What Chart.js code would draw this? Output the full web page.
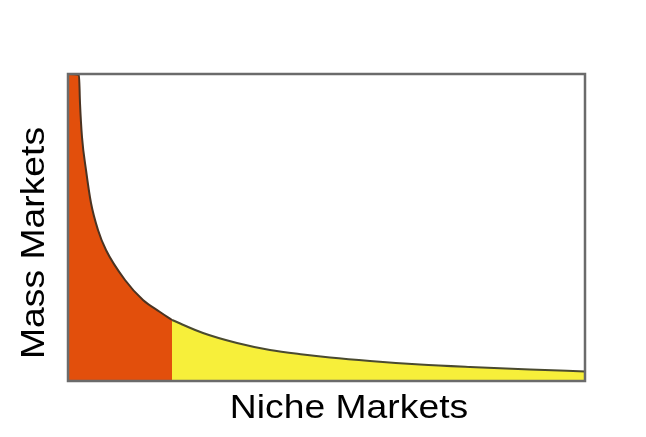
<!DOCTYPE html>
<html>
<head>
<meta charset="utf-8">
<style>
  body { margin: 0; background: #fff; }
  #wrap { width: 646px; height: 437px; }
</style>
<script src="https://cdn.jsdelivr.net/npm/chart.js@4/dist/chart.umd.min.js"></script>
</head>
<body>
<div id="wrap"><canvas id="tailChart" width="646" height="437"></canvas></div>
<script>
// head of the curve (mass markets)
const headX = [0, 11, 12, 14, 18, 23, 30, 38, 57, 75, 92, 104];
const headY = [307, 306, 278, 244, 211, 178, 151, 131, 101, 81, 69, 61];
// long tail (niche markets)
const tailX = [104, 135, 169, 202, 235, 262, 302, 352, 402, 462, 517];
const tailY = [61, 48, 38, 31, 26.5, 23.5, 20, 16.5, 14, 11.5, 9.5];

const xTitle = "Niche Markets";
const yTitle = "Mass Markets";

function toPoints(xs, ys) {
  return xs.map((x, i) => ({ x: x, y: ys[i] }));
}

// frame round the plot area and the two axis labels
const framePlugin = {
  id: "frame",
  afterDatasetsDraw(chart) {
    const a = chart.chartArea;
    const ctx = chart.ctx;
    ctx.save();
    ctx.strokeStyle = "#6b6b6b";
    ctx.lineWidth = 2.5;
    ctx.strokeRect(a.left, a.top, a.right - a.left, a.bottom - a.top);

    ctx.fillStyle = "#000";
    ctx.font = "33px 'Liberation Sans', Arial, sans-serif";
    ctx.textAlign = "center";
    ctx.textBaseline = "alphabetic";

    // the reference text is a little stretched along its line
    ctx.save();
    ctx.translate(349, 418);
    ctx.scale(1.13, 1);
    ctx.fillText(xTitle, 0, 0);
    ctx.restore();

    ctx.translate(44, 243);
    ctx.rotate(-Math.PI / 2);
    ctx.scale(1.13, 1);
    ctx.fillText(yTitle, 0, 0);
    ctx.restore();
  },
};

const lastHead = headX.length - 1;

new Chart(document.getElementById("tailChart"), {
  type: "line",
  data: {
    datasets: [
      {
        data: toPoints(headX, headY),
        backgroundColor: "#e24f0c",
        borderColor: "#4a3322",
        borderWidth: 2,
        fill: "origin",
        cubicInterpolationMode: "monotone",
        pointRadius: 0,
      },
      {
        data: toPoints(tailX, tailY),
        backgroundColor: "#f7ef3a",
        borderColor: "#4a4a30",
        borderWidth: 2,
        fill: "origin",
        cubicInterpolationMode: "monotone",
        pointRadius: 0,
      },
      {
        // the dividing line between head and tail
        data: [
          { x: headX[lastHead], y: 0 },
          { x: headX[lastHead], y: headY[lastHead] },
        ],
        borderColor: "#4a3322",
        borderWidth: 2,
        fill: false,
        tension: 0,
        pointRadius: 0,
      },
    ],
  },
  options: {
    responsive: false,
    animation: false,
    layout: { padding: { left: 68, top: 74, right: 61, bottom: 56 } },
    plugins: { legend: { display: false }, tooltip: { enabled: false } },
    scales: {
      x: { type: "linear", min: 0, max: 517, display: false },
      y: { min: 0, max: 307, display: false },
    },
  },
  plugins: [framePlugin],
});
</script>
</body>
</html>
